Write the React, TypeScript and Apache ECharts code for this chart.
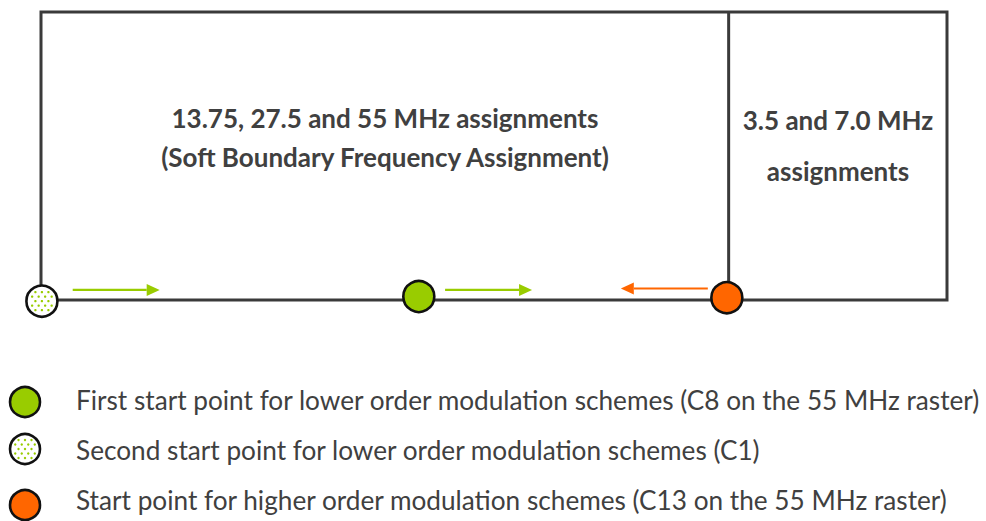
import React, { useEffect, useRef } from "react";
import * as echarts from "echarts";

// Band positions expressed as percentage of the soft-boundary frequency range
const bandMin = 0;
const bandMax = 100;
const boundaryPos = [75.9];
const startPointNames = ["C1", "C8", "C13"];
const startPointPos = [0.1, 41.7, 75.7];
const startPointLevel = [-0.004, 0.012, 0.008];
const startPointKind = ["dotted", "green", "orange"];
const arrowFrom = [3.5, 44.6, 73.6];
const arrowTo = [13.1, 54.2, 64.0];
const arrowLevel = [0.035, 0.035, 0.04];
const arrowKind = ["green", "green", "orange"];
const regionLabels = [
  ["13.75, 27.5 and 55 MHz assignments", "(Soft Boundary Frequency Assignment)"],
  ["3.5 and 7.0 MHz", "assignments"],
];
const legendKinds = ["green", "dotted", "orange"];
const legendTexts = [
  "First start point for lower order modulation schemes (C8 on the 55 MHz raster)",
  "Second start point for lower order modulation schemes (C1)",
  "Start point for higher order modulation schemes (C13 on the 55 MHz raster)",
];

const GREEN = "#99cc00";
const ORANGE = "#ff6600";
const LINE = "#3a3a3a";
const TEXT = "#404040";
const FONT = "Lato, 'Open Sans', sans-serif";

function dotOffsets(r: number): number[][] {
  const out: number[][] = [];
  for (let row = -3; row <= 3; row++) {
    for (let col = -3; col <= 3; col++) {
      const dx = col * 6.5 + (Math.abs(row) % 2 ? 3.25 : 0);
      const dy = row * 4.5;
      if (dx * dx + dy * dy < (r - 3) * (r - 3)) out.push([dx, dy]);
    }
  }
  return out;
}

function markerChildren(kind: string, cx: number, cy: number, r: number): any[] {
  const fill = kind === "green" ? GREEN : kind === "orange" ? ORANGE : "#ffffff";
  const kids: any[] = [
    {
      type: "circle",
      shape: { cx, cy, r },
      style: { fill, stroke: "#111111", lineWidth: 2.6 },
    },
  ];
  if (kind === "dotted") {
    dotOffsets(r).forEach(([dx, dy]) =>
      kids.push({
        type: "circle",
        shape: { cx: cx + dx, cy: cy + dy, r: 1.2 },
        style: { fill: GREEN },
      })
    );
  }
  return kids;
}

function label(text: string, x: number, y: number, weight: number, size: number, align: string): any {
  return {
    type: "text",
    x,
    y,
    style: {
      text,
      fill: TEXT,
      font: `${weight} ${size}px ${FONT}`,
      align,
      verticalAlign: "middle",
    },
  };
}

export default function App() {
  const ref = useRef<HTMLDivElement>(null);
  useEffect(() => {
    if (!ref.current) return;
    const chart = echarts.init(ref.current, undefined, { renderer: "svg" });

    const markerData = startPointPos.map((p, i) => ({
      name: startPointNames[i],
      value: [p, startPointLevel[i], i],
    }));
    const arrowData = arrowFrom.map((f, i) => ({
      value: [f, arrowTo[i], arrowLevel[i], i],
    }));

    const legendGraphics: any[] = [];
    const legendY = [402, 449, 505];
    const legendTextY = [400, 450, 500];
    legendKinds.forEach((k, i) => {
      legendGraphics.push({
        type: "group",
        children: markerChildren(k, 25, legendY[i], 15),
      });
      legendGraphics.push(label(legendTexts[i], 76, legendTextY[i], 400, 26.2, "left"));
    });

    chart.setOption({
      animation: false,
      grid: {
        left: 41,
        right: 39,
        top: 12,
        bottom: 221,
        show: true,
        borderColor: LINE,
        borderWidth: 3,
        backgroundColor: "transparent",
      },
      xAxis: { type: "value", min: bandMin, max: bandMax, show: false },
      yAxis: { type: "value", min: 0, max: 1, show: false },
      series: [
        {
          type: "custom",
          name: "boundary",
          clip: false,
          data: boundaryPos.map((b) => [b]),
          renderItem: (params: any, api: any) => {
            const p0 = api.coord([api.value(0), 0]);
            const p1 = api.coord([api.value(0), 1]);
            return {
              type: "line",
              shape: { x1: p0[0], y1: p0[1], x2: p1[0], y2: p1[1] },
              style: { stroke: LINE, lineWidth: 3 },
            };
          },
        },
        {
          type: "custom",
          name: "arrows",
          clip: false,
          data: arrowData,
          renderItem: (params: any, api: any) => {
            const y = api.value(2);
            const a = api.coord([api.value(0), y]);
            const b = api.coord([api.value(1), y]);
            const color = arrowKind[api.value(3)] === "green" ? GREEN : ORANGE;
            const dir = b[0] > a[0] ? 1 : -1;
            const head = 13;
            const hw = 6;
            return {
              type: "group",
              children: [
                {
                  type: "line",
                  shape: { x1: a[0], y1: a[1], x2: b[0] - dir * head, y2: b[1] },
                  style: { stroke: color, lineWidth: 2.2 },
                },
                {
                  type: "polygon",
                  shape: {
                    points: [
                      [b[0], b[1]],
                      [b[0] - dir * head, b[1] - hw],
                      [b[0] - dir * head, b[1] + hw],
                    ],
                  },
                  style: { fill: color },
                },
              ],
            };
          },
        },
        {
          type: "custom",
          name: "start points",
          clip: false,
          data: markerData,
          renderItem: (params: any, api: any) => {
            const c = api.coord([api.value(0), api.value(1)]);
            const kind = startPointKind[api.value(2)];
            return { type: "group", children: markerChildren(kind, c[0], c[1], 15.5) };
          },
        },
      ],
      graphic: [
        label(regionLabels[0][0], 385, 118, 700, 26, "center"),
        label(regionLabels[0][1], 385, 157, 700, 26, "center"),
        label(regionLabels[1][0], 838, 120, 700, 26, "center"),
        label(regionLabels[1][1], 838, 171, 700, 26, "center"),
        ...legendGraphics,
      ],
    });
    return () => chart.dispose();
  }, []);
  return <div ref={ref} style={{ width: 986, height: 521, position: "absolute", left: 0, top: 0 }} />;
}
